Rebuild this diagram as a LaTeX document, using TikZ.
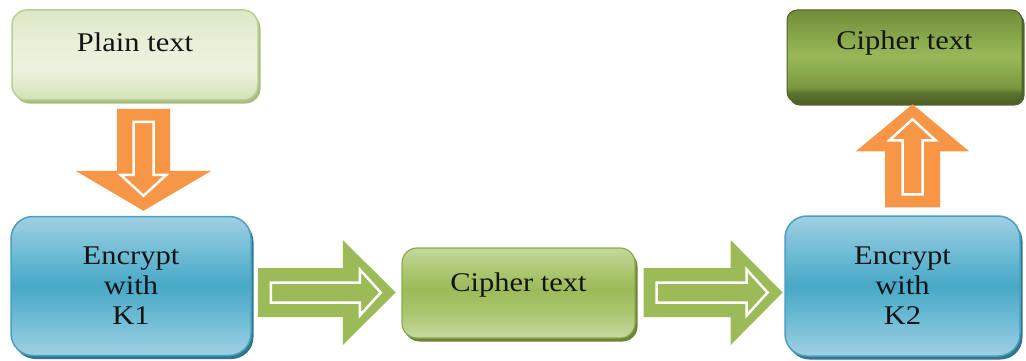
\documentclass[tikz,border=0pt]{standalone}
\usepackage{fontspec}
\setmainfont[FakeStretch=1.13]{Liberation Serif}
\usetikzlibrary{shadows,calc}

\definecolor{arrowOrange}{HTML}{F79646}
\definecolor{arrowGreen}{HTML}{9BBB59}
\definecolor{paleEdge}{HTML}{B9D08F}
\definecolor{paleShadow}{HTML}{A6BD80}
\definecolor{paleA}{HTML}{D2E2B6}
\definecolor{paleB}{HTML}{ECF3E1}
\definecolor{paleC}{HTML}{E6EFD7}
\definecolor{paleD}{HTML}{DCE8C6}
\definecolor{blueLight}{HTML}{A0D0E2}
\definecolor{blueHalf}{HTML}{6FBCD5}
\definecolor{blueMid}{HTML}{48A8C6}
\definecolor{blueEdge}{HTML}{4A9FC0}
\definecolor{blueShadow}{HTML}{2F7690}
\definecolor{greenLight}{HTML}{C5D9A0}
\definecolor{greenHalfA}{HTML}{A9C66C}
\definecolor{greenMid}{HTML}{9BBB59}
\definecolor{greenHalfB}{HTML}{ADC874}
\definecolor{greenTop}{HTML}{C3D79C}
\definecolor{greenEdge}{HTML}{8AAB4C}
\definecolor{greenShadow}{HTML}{6A8536}
\definecolor{oliveA}{HTML}{4F6228}
\definecolor{oliveB}{HTML}{5C752D}
\definecolor{oliveC}{HTML}{7A9941}
\definecolor{oliveD}{HTML}{98B859}
\definecolor{oliveE}{HTML}{7F9E45}
\definecolor{oliveF}{HTML}{6E8C37}
\definecolor{oliveEdge}{HTML}{4F6228}
\definecolor{textDark}{HTML}{141414}

% vertical fills for the box types (the path spans 25bp to 75bp)
\pgfdeclareverticalshading{paleshade}{100bp}{%
  color(0bp)=(paleA); color(25bp)=(paleA); color(42bp)=(paleB);
  color(58bp)=(paleC); color(75bp)=(paleD); color(100bp)=(paleD)}
\pgfdeclareverticalshading{blueshade}{100bp}{%
  color(0bp)=(blueLight); color(25bp)=(blueLight); color(38bp)=(blueHalf);
  color(50bp)=(blueMid); color(62bp)=(blueHalf); color(75bp)=(blueLight); color(100bp)=(blueLight)}
\pgfdeclareverticalshading{greenshade}{100bp}{%
  color(0bp)=(greenLight); color(25bp)=(greenLight); color(40bp)=(greenHalfA);
  color(52bp)=(greenMid); color(63bp)=(greenHalfB); color(75bp)=(greenTop); color(100bp)=(greenTop)}
\pgfdeclareverticalshading{oliveshade}{100bp}{%
  color(0bp)=(oliveA); color(25bp)=(oliveA); color(30bp)=(oliveB);
  color(33bp)=(oliveC); color(50bp)=(oliveD); color(66bp)=(oliveE);
  color(75bp)=(oliveF); color(100bp)=(oliveF)}

\begin{document}
\begin{tikzpicture}[x=1pt,y=-1pt,
  every node/.style={text=textDark, font=\fontsize{27}{30}\selectfont},
  basebox/.style={rounded corners=15pt, inner sep=0pt, align=center,
    drop shadow={shadow xshift=2.5pt, shadow yshift=-3.5pt, fill=#1, opacity=1}},
  plainbox/.style={basebox=paleShadow, draw=paleEdge, line width=1.5pt, shading=paleshade},
  encbox/.style={basebox=blueShadow, rounded corners=22pt, draw=blueEdge, line width=1.5pt,
    shading=blueshade},
  cipherbox/.style={basebox=greenShadow, draw=greenEdge, line width=1.2pt, shading=greenshade},
  darkbox/.style={basebox=oliveEdge, rounded corners=10pt, draw=oliveEdge, line width=1pt,
    shading=oliveshade},
  pics/barrow/.style n args={5}{code={
    \fill[#5] (0,{-#2/2}) -- ({#1-#4},{-#2/2}) -- ({#1-#4},{-#3/2}) -- (#1,0)
      -- ({#1-#4},{#3/2}) -- ({#1-#4},{#2/2}) -- (0,{#2/2}) -- cycle;
    \draw[white, line width=2.5pt, fill=#5, line join=miter]
      (13,-10) -- ({#1-36},-10) -- ({#1-36},-23) -- ({#1-15},0)
      -- ({#1-36},23) -- ({#1-36},10) -- (13,10) -- cycle;
  }}
]
\useasboundingbox (0,0) rectangle (1026,361);

% boxes
\node[plainbox, minimum width=246pt, minimum height=90pt, text height=20pt, text depth=26pt]
  (plain) at (135,55) {Plain text};
\node[encbox, minimum width=240pt, minimum height=139pt]
  (enc1) at (131,286) {Encrypt\\with\\K1};
\node[cipherbox, minimum width=233pt, minimum height=90pt, text height=20pt, text depth=24pt]
  (mid) at (518.5,293) {Cipher text};
\node[encbox, minimum width=235pt, minimum height=140pt]
  (enc2) at (902.5,286) {Encrypt\\with\\K2};
\node[darkbox, minimum width=235pt, minimum height=92pt, text height=20pt, text depth=32pt]
  (top) at (904.5,56) {Cipher text};

% block arrows between the stages
\coordinate (a1) at ($(plain.south)+(8.5,8)$);
\coordinate (a2) at ($(enc1.east)+(6,6.5)$);
\coordinate (a3) at ($(mid.east)+(8,-0.5)$);
\coordinate (a4) at ($(enc2.north)+(10,-8)$);
\pic[rotate=-90] at (a1) {barrow={102}{53}{136}{40}{arrowOrange}};
\pic at (a2) {barrow={138}{49}{105}{53}{arrowGreen}};
\pic at (a3) {barrow={139}{49}{105}{52}{arrowGreen}};
\pic[rotate=90] at (a4) {barrow={103}{55}{113}{47}{arrowOrange}};
\end{tikzpicture}
\end{document}
